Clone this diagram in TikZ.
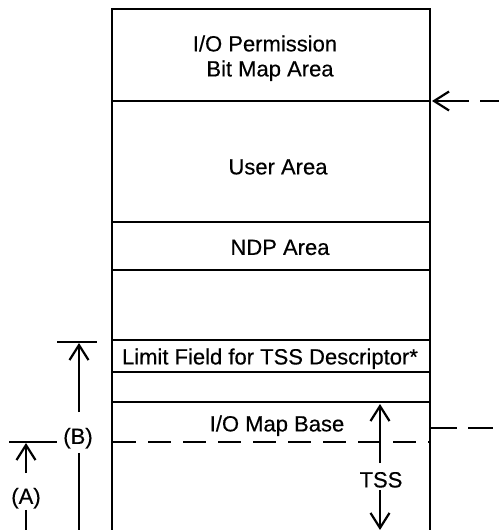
\documentclass[tikz,border=0pt]{standalone}
\usepackage{fontspec}
\setmainfont{Liberation Sans}
\usetikzlibrary{arrows.meta}

\begin{document}
\begin{tikzpicture}[x=1pt,y=-1pt,
  rule/.style={line width=1.8pt},
  thinline/.style={line width=1.3pt},
  lbl/.style={inner sep=0pt, outer sep=0pt, text height=15.8pt, text depth=0pt,
              font=\fontsize{22}{25}\selectfont\addfontfeature{FakeBold=0.4}},
  barb/.style={-{Straight Barb[length=15pt,width=19pt,line width=2.2pt]}},
  barbrev/.style={{Straight Barb[length=15pt,width=19pt,line width=2.2pt]}-}
]
\useasboundingbox (0,0) rectangle (499,530);

% TSS frame: open at the bottom
\draw[rule] (112,530) -- (112,9) -- (430,9) -- (430,530);
\foreach \yy in {101,222,270,340,372,402}
  \draw[rule] (112,\yy) -- (430,\yy);

% field labels
\node[lbl] (perm1)   at (265,43.5)  {I/O Permission};
\node[lbl] (perm2)   at (270,68.5)  {Bit Map Area};
\node[lbl] (user)    at (278,166.5) {User Area};
\node[lbl] (ndp)     at (280,247)   {NDP Area};
\node[lbl] (limit)   at (270,356.5) {Limit Field for TSS Descriptor*};
\node[lbl] (mapbase) at (277,423.5) {I/O Map Base};
\node[lbl] (tss)     at (381,479.5) {TSS};
\node[lbl] (la)      at (26,496)    {(A)};
\node[lbl] (lb)      at (78,436)    {(B)};

% base of the TSS (dashed level line)
\coordinate (baseL) at (113,442);
\coordinate (baseR) at (430,442);
\draw[line width=1.6pt, dash pattern=on 23pt off 12pt] (baseL) -- (baseR);

% pointer into the bit map area
\coordinate (mapTip) at (432,101);
\coordinate (mapEnd) at (499,101);
\draw[thinline, line width=1.5pt, barbrev, dash pattern=on 34pt off 11pt on 40pt] (mapTip) -- (mapEnd);

% dashed marker at the I/O map base level
\coordinate (mbL) at (431,428);
\coordinate (mbR) at (499,428);
\draw[line width=1.6pt, dash pattern=on 26pt off 11pt on 25pt off 30pt] (mbL) -- (mbR);

% TSS extent arrows
\coordinate (tssTop) at (380,404);
\coordinate (tssBot) at (380,530);
\draw[thinline, barb] ([yshift=8.5pt]tss.north -| tssTop) -- (tssTop);
\draw[thinline, barb] ([yshift=-3pt]tss.south -| tssBot) -- (tssBot);

% dimension (A)
\coordinate (aTickL) at (9,442);
\coordinate (aTickR) at (57,442);
\coordinate (aTip) at (26,443);
\coordinate (aBot) at (26,530);
\draw[rule] (aTickL) -- (aTickR);
\draw[thinline, barb] ([yshift=15pt]la.north -| aTip) -- (aTip);
\draw[thinline] ([yshift=-6pt]la.south -| aBot) -- (aBot);

% dimension (B)
\coordinate (bTickL) at (57,342);
\coordinate (bTickR) at (97,342);
\coordinate (bTip) at (79,343);
\coordinate (bBot) at (79,530);
\draw[rule] (bTickL) -- (bTickR);
\draw[thinline, barb] ([yshift=16pt]lb.north -| bTip) -- (bTip);
\draw[thinline] ([yshift=-9pt]lb.south -| bBot) -- (bBot);
\end{tikzpicture}
\end{document}
